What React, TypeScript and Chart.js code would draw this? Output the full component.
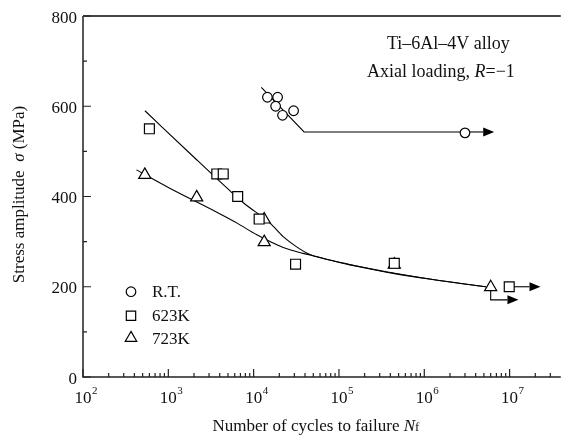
import { useEffect, useRef } from 'react';
import { Chart, registerables } from 'chart.js';
import { drawPoint } from 'chart.js/helpers';

Chart.register(...registerables);

// ---- data (cycles to failure, stress amplitude MPa) ----
const rtPoints: [number, number][] = [
  [1.45e4, 620], [1.91e4, 620], [1.81e4, 600], [2.18e4, 580], [2.94e4, 590], [3.0e6, 541],
];
const rtLine: [number, number][] = [[1.23e4, 642], [3.9e4, 543], [3.0e6, 543]];
const rtArrow: [number, number][] = [[3.0e6, 543], [6.6e6, 543]];

const k623Points: [number, number][] = [
  [600, 550], [3.7e3, 450], [4.4e3, 450], [6.5e3, 400], [1.16e4, 350], [3.1e4, 250], [4.45e5, 252], [9.9e6, 200],
];
const k623Curve: [number, number][] = [
  [532, 590], [2.0e3, 487], [5.4e3, 411], [7.7e3, 385], [1.56e4, 341], [2.22e4, 311], [3.16e4, 289],
  [4.5e4, 272], [6.4e4, 263], [1.3e5, 250], [4.5e5, 229], [1.5e6, 214], [5.3e6, 200],
];
const k623Arrow: [number, number][] = [[9.9e6, 200], [2.3e7, 200]];

const k723Points: [number, number][] = [
  [530, 448], [2.15e3, 398], [1.33e4, 349], [1.33e4, 299], [4.45e5, 249], [6.0e6, 199],
];
const k723Curve: [number, number][] = [
  [423, 459], [1.0e3, 420], [3.8e3, 364], [6.4e3, 341], [1.09e4, 315], [2.22e4, 287], [3.78e4, 274],
  [5.4e4, 267], [1.3e5, 249], [4.5e5, 230], [1.5e6, 214], [5.3e6, 200],
];
const k723Arrow: [number, number][] = [[6.0e6, 199], [6.0e6, 171], [1.27e7, 171]];

const yMajorTicks = [0, 200, 400, 600, 800];
const yMinorTicks = [100, 300, 500, 700];
const xDecades = [2, 3, 4, 5, 6, 7];
const xMin = 100;
const xMax = Math.pow(10, 7.6);

const legendItems = [
  { label: 'R.T.', style: 'circle', r: 4.8 },
  { label: '623K', style: 'rect', r: 6.6 },
  { label: '723K', style: 'triangle', r: 6.6 },
];

const SERIF = "'Liberation Serif', 'Times New Roman', serif";

const toXY = (a: [number, number][]) => a.map(([x, y]) => ({ x, y }));

type Seg = { text: string; font: string; dy?: number };
function drawRich(ctx: CanvasRenderingContext2D, segs: Seg[], x: number, y: number, align: 'left' | 'center') {
  let total = 0;
  const widths = segs.map((s) => {
    ctx.font = s.font;
    const w = ctx.measureText(s.text).width;
    total += w;
    return w;
  });
  let cx = align === 'center' ? x - total / 2 : x;
  ctx.textAlign = 'left';
  segs.forEach((s, i) => {
    ctx.font = s.font;
    ctx.fillText(s.text, cx, y + (s.dy || 0));
    cx += widths[i];
  });
}

function drawArrowPath(chart: any, path: [number, number][]) {
  const ctx: CanvasRenderingContext2D = chart.ctx;
  const xs = chart.scales.x;
  const ys = chart.scales.y;
  const pts = path.map(([a, b]) => [xs.getPixelForValue(a), ys.getPixelForValue(b)]);
  ctx.save();
  ctx.strokeStyle = '#000';
  ctx.fillStyle = '#000';
  ctx.lineWidth = 1.1;
  ctx.beginPath();
  const n = pts.length;
  const [tx, ty] = pts[n - 1];
  const [px, py] = pts[n - 2];
  const ang = Math.atan2(ty - py, tx - px);
  const L = 11;
  const H = 4.5;
  ctx.moveTo(pts[0][0], pts[0][1]);
  for (let i = 1; i < n - 1; i++) ctx.lineTo(pts[i][0], pts[i][1]);
  ctx.lineTo(tx - Math.cos(ang) * L, ty - Math.sin(ang) * L);
  ctx.stroke();
  ctx.beginPath();
  ctx.moveTo(tx, ty);
  ctx.lineTo(tx - Math.cos(ang) * L - Math.sin(ang) * H, ty - Math.sin(ang) * L + Math.cos(ang) * H);
  ctx.lineTo(tx - Math.cos(ang) * L + Math.sin(ang) * H, ty - Math.sin(ang) * L - Math.cos(ang) * H);
  ctx.closePath();
  ctx.fill();
  ctx.restore();
}

const overlay = {
  id: 'overlay',
  beforeDatasetsDraw(chart: any) {
    drawArrowPath(chart, rtArrow);
    drawArrowPath(chart, k623Arrow);
    drawArrowPath(chart, k723Arrow);
  },
  afterDraw(chart: any) {
    const ctx: CanvasRenderingContext2D = chart.ctx;
    const { left, right, top, bottom } = chart.chartArea;
    const xs = chart.scales.x;
    const ys = chart.scales.y;
    ctx.save();
    // axes
    ctx.strokeStyle = '#222';
    ctx.lineWidth = 1.5;
    ctx.beginPath();
    ctx.moveTo(left, top);
    ctx.lineTo(left, bottom);
    ctx.lineTo(right, bottom);
    ctx.stroke();
    ctx.strokeStyle = '#444';
    ctx.lineWidth = 2;
    ctx.beginPath();
    ctx.moveTo(left, top);
    ctx.lineTo(right, top);
    ctx.stroke();

    // y ticks (inward)
    ctx.strokeStyle = '#222';
    ctx.lineWidth = 1.2;
    ctx.beginPath();
    yMajorTicks.forEach((v) => {
      const py = ys.getPixelForValue(v);
      ctx.moveTo(left, py);
      ctx.lineTo(left + 8, py);
    });
    yMinorTicks.forEach((v) => {
      const py = ys.getPixelForValue(v);
      ctx.moveTo(left, py);
      ctx.lineTo(left + 4, py);
    });
    // x ticks (inward)
    for (let e = 2; e <= 7; e++) {
      for (let m = 1; m <= 9; m++) {
        const v = m * Math.pow(10, e);
        if (v > xMax) break;
        const px = xs.getPixelForValue(v);
        const len = m === 1 ? 8 : 4;
        ctx.moveTo(px, bottom);
        ctx.lineTo(px, bottom - len);
      }
    }
    ctx.stroke();

    // tick labels
    ctx.fillStyle = '#111';
    ctx.textBaseline = 'alphabetic';
    ctx.font = `17px ${SERIF}`;
    ctx.textAlign = 'right';
    yMajorTicks.forEach((v) => {
      const py = ys.getPixelForValue(v);
      ctx.fillText(String(v), left - 6, py + 6.5);
    });
    xDecades.forEach((e) => {
      const px = xs.getPixelForValue(Math.pow(10, e));
      ctx.font = `17px ${SERIF}`;
      ctx.textAlign = 'center';
      const w = ctx.measureText('10').width;
      ctx.fillText('10', px, 403);
      ctx.font = `11px ${SERIF}`;
      ctx.textAlign = 'left';
      ctx.fillText(String(e), px + w / 2 + 0.5, 394);
    });

    // axis titles
    drawRich(
      ctx,
      [
        { text: 'Number of cycles to failure ', font: `17px ${SERIF}` },
        { text: 'N', font: `italic 17px ${SERIF}` },
        { text: 'f', font: `13px ${SERIF}` },
      ],
      316,
      431,
      'center'
    );
    ctx.save();
    ctx.translate(24, (top + bottom) / 2 - 2);
    ctx.rotate(-Math.PI / 2);
    drawRich(
      ctx,
      [
        { text: 'Stress amplitude  ', font: `17px ${SERIF}` },
        { text: 'σ', font: `italic 17px ${SERIF}` },
        { text: ' (MPa)', font: `17px ${SERIF}` },
      ],
      0,
      0,
      'center'
    );
    ctx.restore();

    // annotation
    drawRich(ctx, [{ text: 'Ti–6Al–4V alloy', font: `18px ${SERIF}` }], 387, 49, 'left');
    drawRich(
      ctx,
      [
        { text: 'Axial loading, ', font: `18px ${SERIF}` },
        { text: 'R', font: `italic 18px ${SERIF}` },
        { text: '=−1', font: `18px ${SERIF}` },
      ],
      367,
      77,
      'left'
    );

    // legend
    const ly = [291.7, 315.7, 338];
    legendItems.forEach((it, i) => {
      ctx.fillStyle = '#fff';
      ctx.strokeStyle = '#000';
      ctx.lineWidth = 1.2;
      drawPoint(ctx, { pointStyle: it.style as any, rotation: 0, radius: it.r, borderWidth: 1.2 } as any, 131, ly[i]);
      ctx.fillStyle = '#111';
      ctx.font = `17px ${SERIF}`;
      ctx.textAlign = 'left';
      ctx.fillText(it.label, 152, ly[i] + 5.5);
    });
    ctx.restore();
  },
};

export default function App() {
  const ref = useRef<HTMLCanvasElement>(null);
  useEffect(() => {
    const markerBase = {
      backgroundColor: '#fff',
      borderColor: '#000',
      borderWidth: 1.2,
      showLine: false,
    };
    const lineBase = {
      borderColor: '#000',
      borderWidth: 1.1,
      pointRadius: 0,
      showLine: true,
      fill: false,
    };
    const chart = new Chart(ref.current as HTMLCanvasElement, {
      type: 'scatter',
      data: {
        datasets: [
          { ...markerBase, label: 'R.T.', data: toXY(rtPoints), pointStyle: 'circle', pointRadius: 4.8 },
          { ...markerBase, label: '623K', data: toXY(k623Points), pointStyle: 'rect', pointRadius: 7 },
          { ...markerBase, label: '723K', data: toXY(k723Points), pointStyle: 'triangle', pointRadius: 7 },
          { ...lineBase, label: 'R.T. fit', data: toXY(rtLine), tension: 0 },
          { ...lineBase, label: '623K fit', data: toXY(k623Curve), cubicInterpolationMode: 'monotone' },
          { ...lineBase, label: '723K fit', data: toXY(k723Curve), cubicInterpolationMode: 'monotone' },
        ] as any,
      },
      options: {
        animation: false,
        responsive: false,
        devicePixelRatio: 1,
        events: [],
        layout: { padding: { left: 83, top: 16, right: 0, bottom: 62 } },
        plugins: { legend: { display: false }, tooltip: { enabled: false } },
        scales: {
          x: { type: 'logarithmic', min: xMin, max: xMax, display: false },
          y: { type: 'linear', min: 0, max: 800, display: false },
        },
      },
      plugins: [overlay],
    });
    return () => chart.destroy();
  }, []);
  return (
    <div style={{ position: 'absolute', left: 0, top: 0, width: 569, height: 439, background: '#fff' }}>
      <canvas ref={ref} width={569} height={439} style={{ display: 'block', width: 569, height: 439 }} />
    </div>
  );
}
